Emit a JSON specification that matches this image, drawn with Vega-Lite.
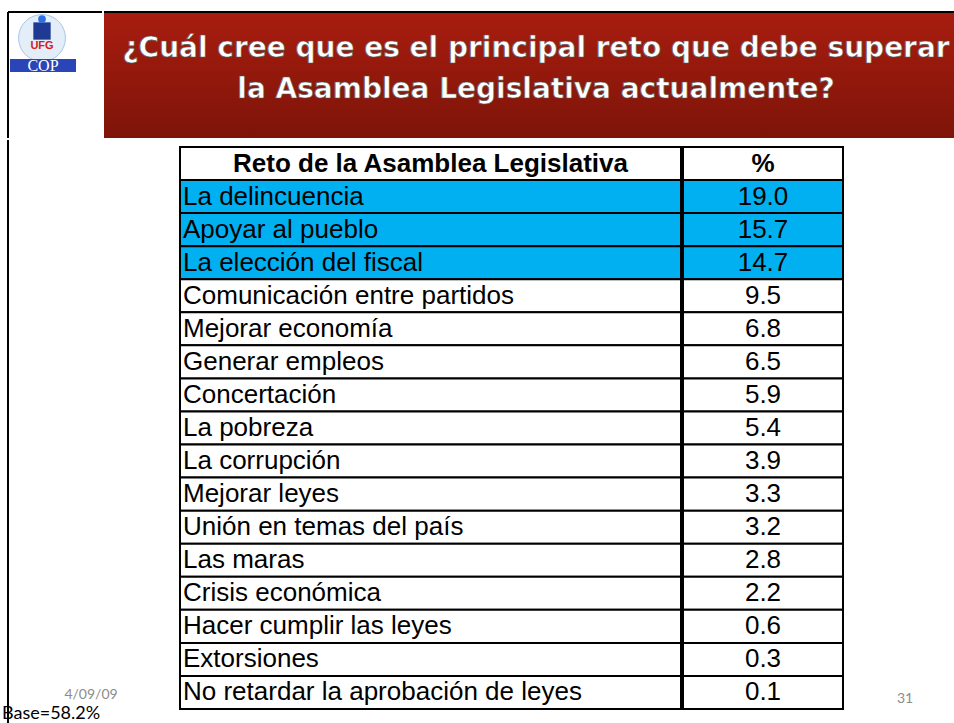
{
  "$schema": "https://vega.github.io/schema/vega-lite/v6.json",
  "background": "white",
  "padding": {"left": 2, "top": 11, "right": 0, "bottom": 0},
  "config": {"view": {"stroke": null}},
  "datasets": {
    "tabla": [
      {"reto": "La delincuencia", "pct": 19.0, "destacado": true},
      {"reto": "Apoyar al pueblo", "pct": 15.7, "destacado": true},
      {"reto": "La elección del fiscal", "pct": 14.7, "destacado": true},
      {"reto": "Comunicación entre partidos", "pct": 9.5, "destacado": false},
      {"reto": "Mejorar economía", "pct": 6.8, "destacado": false},
      {"reto": "Generar empleos", "pct": 6.5, "destacado": false},
      {"reto": "Concertación", "pct": 5.9, "destacado": false},
      {"reto": "La pobreza", "pct": 5.4, "destacado": false},
      {"reto": "La corrupción", "pct": 3.9, "destacado": false},
      {"reto": "Mejorar leyes", "pct": 3.3, "destacado": false},
      {"reto": "Unión en temas del país", "pct": 3.2, "destacado": false},
      {"reto": "Las maras", "pct": 2.8, "destacado": false},
      {"reto": "Crisis económica", "pct": 2.2, "destacado": false},
      {"reto": "Hacer cumplir las leyes", "pct": 0.6, "destacado": false},
      {"reto": "Extorsiones", "pct": 0.3, "destacado": false},
      {"reto": "No retardar la aprobación de leyes", "pct": 0.1, "destacado": false}
    ],
    "encabezado": [{"reto": "Reto de la Asamblea Legislativa", "pct": "%"}],
    "titulo": [
      {"linea": 1, "texto": "¿Cuál cree que es el principal reto que debe superar"},
      {"linea": 2, "texto": "la Asamblea Legislativa actualmente?"}
    ]
  },
  "spacing": 0,
  "vconcat": [
    {
      "spacing": 0,
      "hconcat": [
        {
          "width": 94,
          "height": 126,
          "data": {"values": [{}]},
          "layer": [
            {"mark": {"type": "point", "shape": "circle", "filled": true, "fill": "#e4eef8", "stroke": "#a9c6e6", "strokeWidth": 1, "opacity": 1, "size": 2200},
             "encoding": {"x": {"datum": 34, "type": "quantitative", "scale": {"domain": [0, 94]}, "axis": null},
                          "y": {"datum": 26, "type": "quantitative", "scale": {"domain": [0, 126], "reverse": true}, "axis": null}}},
            {"mark": {"type": "point", "shape": "square", "filled": true, "fill": "#1f3a93", "opacity": 1, "size": 300},
             "encoding": {"x": {"datum": 34, "type": "quantitative", "scale": {"domain": [0, 94]}, "axis": null},
                          "y": {"datum": 19, "type": "quantitative", "scale": {"domain": [0, 126], "reverse": true}, "axis": null}}},
            {"mark": {"type": "point", "shape": "circle", "filled": true, "fill": "#2f6fe0", "opacity": 1, "size": 60},
             "encoding": {"x": {"datum": 34, "type": "quantitative", "scale": {"domain": [0, 94]}, "axis": null},
                          "y": {"datum": 7, "type": "quantitative", "scale": {"domain": [0, 126], "reverse": true}, "axis": null}}},
            {"mark": {"type": "text", "text": "UFG", "font": "Liberation Sans", "fontWeight": "bold", "fontSize": 11, "color": "#d01c1c", "baseline": "middle"},
             "encoding": {"x": {"datum": 34, "type": "quantitative", "scale": {"domain": [0, 94]}, "axis": null},
                          "y": {"datum": 34, "type": "quantitative", "scale": {"domain": [0, 126], "reverse": true}, "axis": null}}},
            {"mark": {"type": "rect", "fill": "#2a45b8"},
             "encoding": {"x": {"datum": 2, "type": "quantitative", "scale": {"domain": [0, 94]}, "axis": null},
                          "x2": {"datum": 68},
                          "y": {"datum": 47, "type": "quantitative", "scale": {"domain": [0, 126], "reverse": true}, "axis": null},
                          "y2": {"datum": 60}}},
            {"mark": {"type": "text", "text": "COP", "font": "Liberation Serif", "fontSize": 16, "color": "white", "baseline": "middle"},
             "encoding": {"x": {"datum": 35, "type": "quantitative", "scale": {"domain": [0, 94]}, "axis": null},
                          "y": {"datum": 54, "type": "quantitative", "scale": {"domain": [0, 126], "reverse": true}, "axis": null}}},
            {"mark": {"type": "rule", "color": "black", "strokeWidth": 2},
             "encoding": {"x": {"datum": 0, "type": "quantitative", "scale": {"domain": [0, 94]}, "axis": null}}},
            {"mark": {"type": "rule", "color": "black", "strokeWidth": 2},
             "encoding": {"y": {"datum": 0, "type": "quantitative", "scale": {"domain": [0, 126], "reverse": true}, "axis": null}}}
          ]
        },
        {
          "width": 852,
          "height": 126,
          "layer": [
            {"data": {"values": [{}]},
             "mark": {"type": "rect", "fill": {"gradient": "linear", "x1": 0, "y1": 0, "x2": 0, "y2": 1, "stops": [{"offset": 0, "color": "#a81d0f"}, {"offset": 1, "color": "#7e1409"}]}},
             "encoding": {}},
            {"data": {"values": [{}]},
             "mark": {"type": "rule", "color": "black", "strokeWidth": 2},
             "encoding": {"y": {"datum": 1, "type": "quantitative", "scale": {"domain": [0, 1]}, "axis": null}}},
            {"data": {"name": "titulo"},
             "mark": {"type": "text", "font": "DejaVu Sans", "fontWeight": "bold", "fontSize": 28, "color": "white", "stroke": "#5a5a5a", "strokeWidth": 0.7, "baseline": "middle", "dx": 6},
             "encoding": {"text": {"field": "texto"},
                          "y": {"field": "linea", "type": "ordinal", "scale": {"type": "point", "range": [37, 78], "padding": 0}, "axis": null}}}
          ],
          "resolve": {"scale": {"y": "independent"}}
        }
      ]
    },
    {
      "spacing": 0,
      "hconcat": [
        {
          "width": 171,
          "height": 585,
          "layer": [
            {"data": {"values": [{}]},
             "mark": {"type": "rule", "color": "black", "strokeWidth": 2},
             "encoding": {"x": {"datum": 0, "type": "quantitative", "scale": {"domain": [0, 171]}, "axis": null}}},
            {"data": {"values": [{"fecha": "4/09/09"}]},
             "mark": {"type": "text", "font": "Lato", "fontSize": 14, "color": "#8c8c8c", "baseline": "middle"},
             "encoding": {"text": {"field": "fecha"},
                          "x": {"datum": 83, "type": "quantitative", "scale": {"domain": [0, 171]}, "axis": null},
                          "y": {"datum": 555, "type": "quantitative", "scale": {"domain": [0, 585], "reverse": true}, "axis": null}}},
            {"data": {"values": [{"base": "Base=58.2%"}]},
             "mark": {"type": "text", "font": "Lato", "fontSize": 18, "color": "black", "align": "left", "baseline": "middle", "dx": -6},
             "encoding": {"text": {"field": "base"},
                          "x": {"datum": 0, "type": "quantitative", "scale": {"domain": [0, 171]}, "axis": null},
                          "y": {"datum": 574, "type": "quantitative", "scale": {"domain": [0, 585], "reverse": true}, "axis": null}}}
          ]
        },
        {
          "width": 501,
          "height": 585,
          "layer": [
            {"data": {"name": "encabezado"},
             "mark": {"type": "rect", "fill": "white", "stroke": "black", "strokeWidth": 2},
             "encoding": {"y": {"field": "reto", "type": "nominal", "axis": null,
                                "scale": {"type": "band", "range": [7, 569], "paddingInner": 0, "paddingOuter": 0,
                                          "domain": ["Reto de la Asamblea Legislativa", "La delincuencia", "Apoyar al pueblo", "La elección del fiscal", "Comunicación entre partidos", "Mejorar economía", "Generar empleos", "Concertación", "La pobreza", "La corrupción", "Mejorar leyes", "Unión en temas del país", "Las maras", "Crisis económica", "Hacer cumplir las leyes", "Extorsiones", "No retardar la aprobación de leyes"]}}}},
            {"data": {"name": "tabla"},
             "mark": {"type": "rect", "stroke": "black", "strokeWidth": 2},
             "encoding": {"y": {"field": "reto", "type": "nominal", "axis": null},
                          "fill": {"condition": {"test": "datum.destacado", "value": "#00b0f0"}, "value": "white"}}},
            {"data": {"name": "encabezado"},
             "mark": {"type": "text", "font": "Liberation Sans", "fontWeight": "bold", "fontSize": 26, "color": "black", "baseline": "middle"},
             "encoding": {"y": {"field": "reto", "type": "nominal", "axis": null}, "text": {"field": "reto"}}},
            {"data": {"name": "tabla"},
             "mark": {"type": "text", "font": "Liberation Sans", "fontSize": 26, "color": "black", "align": "left", "baseline": "middle", "dx": 3},
             "encoding": {"y": {"field": "reto", "type": "nominal", "axis": null},
                          "x": {"datum": 0, "type": "quantitative", "scale": {"domain": [0, 1]}, "axis": null},
                          "text": {"field": "reto"}}}
          ]
        },
        {
          "width": 160,
          "height": 585,
          "layer": [
            {"data": {"name": "encabezado"},
             "mark": {"type": "rect", "fill": "white", "stroke": "black", "strokeWidth": 2},
             "encoding": {"y": {"field": "reto", "type": "nominal", "axis": null,
                                "scale": {"type": "band", "range": [7, 569], "paddingInner": 0, "paddingOuter": 0,
                                          "domain": ["Reto de la Asamblea Legislativa", "La delincuencia", "Apoyar al pueblo", "La elección del fiscal", "Comunicación entre partidos", "Mejorar economía", "Generar empleos", "Concertación", "La pobreza", "La corrupción", "Mejorar leyes", "Unión en temas del país", "Las maras", "Crisis económica", "Hacer cumplir las leyes", "Extorsiones", "No retardar la aprobación de leyes"]}}}},
            {"data": {"name": "tabla"},
             "mark": {"type": "rect", "stroke": "black", "strokeWidth": 2},
             "encoding": {"y": {"field": "reto", "type": "nominal", "axis": null},
                          "fill": {"condition": {"test": "datum.destacado", "value": "#00b0f0"}, "value": "white"}}},
            {"data": {"name": "encabezado"},
             "mark": {"type": "text", "font": "Liberation Sans", "fontWeight": "bold", "fontSize": 26, "color": "black", "baseline": "middle"},
             "encoding": {"y": {"field": "reto", "type": "nominal", "axis": null}, "text": {"field": "pct"}}},
            {"data": {"name": "tabla"},
             "mark": {"type": "text", "font": "Liberation Sans", "fontSize": 26, "color": "black", "baseline": "middle"},
             "encoding": {"y": {"field": "reto", "type": "nominal", "axis": null},
                          "text": {"field": "pct", "type": "quantitative", "format": ".1f"}}}
          ]
        },
        {
          "width": 114,
          "height": 585,
          "data": {"values": [{"pagina": "31"}]},
          "mark": {"type": "text", "font": "Lato", "fontSize": 14, "color": "#8c8c8c", "baseline": "middle"},
          "encoding": {"text": {"field": "pagina"},
                       "x": {"datum": 61, "type": "quantitative", "scale": {"domain": [0, 114]}, "axis": null},
                       "y": {"datum": 559, "type": "quantitative", "scale": {"domain": [0, 585], "reverse": true}, "axis": null}}
        }
      ]
    }
  ]
}
